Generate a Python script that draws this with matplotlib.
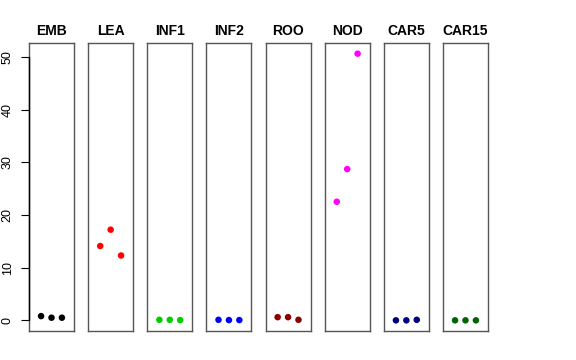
import matplotlib
matplotlib.use("Agg")
import matplotlib.pyplot as plt

plt.rcParams['font.family'] = ['Liberation Sans', 'DejaVu Sans']

categories = ["EMB", "LEA", "INF1", "INF2", "ROO", "NOD", "CAR5", "CAR15"]
colors = ["#000000", "#FF0000", "#00CD00", "#0000FF", "#8B0000", "#FF00FF", "#000080", "#006400"]
values = {
    "EMB": [0.8, 0.5, 0.5],
    "LEA": [14.1, 17.2, 12.3],
    "INF1": [0.1, 0.1, 0.05],
    "INF2": [0.1, 0.05, 0.05],
    "ROO": [0.6, 0.6, 0.1],
    "NOD": [22.5, 28.7, 50.6],
    "CAR5": [0.0, 0.0, 0.1],
    "CAR15": [0.0, 0.0, 0.0],
}
yticks = [0, 10, 20, 30, 40, 50]
xpos = [1, 2, 3]

W, H = 576, 360
fig = plt.figure(figsize=(W / 100, H / 100), dpi=100)

top_px, bot_px = 43, 331
left0, step, width = 29, 59.14, 45

all_vals = [v for k in categories for v in values[k]]
ymin, ymax = min(all_vals), max(all_vals)
rng = ymax - ymin
ylim = (ymin - 0.04 * rng, ymax + 0.04 * rng)
xlim = (0 - 0.16, 4 + 0.16)

frame_col = "#555555"
for i, (cat, col) in enumerate(zip(categories, colors)):
    l = left0 + i * step
    ax = fig.add_axes([l / W, 1 - bot_px / H, width / W, (bot_px - top_px) / H])
    ax.scatter(xpos, values[cat], s=22, color=col, edgecolors='none', zorder=3)
    ax.set_xlim(*xlim)
    ax.set_ylim(*ylim)
    ax.set_xticks([])
    for sp in ax.spines.values():
        sp.set_color(frame_col)
        sp.set_linewidth(1.0)
    ax.set_title(cat, fontsize=10, fontweight='bold', pad=6)
    if i == 0:
        ax.set_yticks(yticks)
        ax.set_yticklabels([str(t) for t in yticks], rotation=90, va='center', fontsize=9)
        ax.tick_params(axis='y', length=5.5, width=0.8, pad=5.5, color='black')
        ax.plot([xlim[0], xlim[0]], [yticks[0], yticks[-1]], color='black', lw=1.0,
                clip_on=False, zorder=4)
    else:
        ax.set_yticks([])

fig.savefig("out.png", dpi=100)
